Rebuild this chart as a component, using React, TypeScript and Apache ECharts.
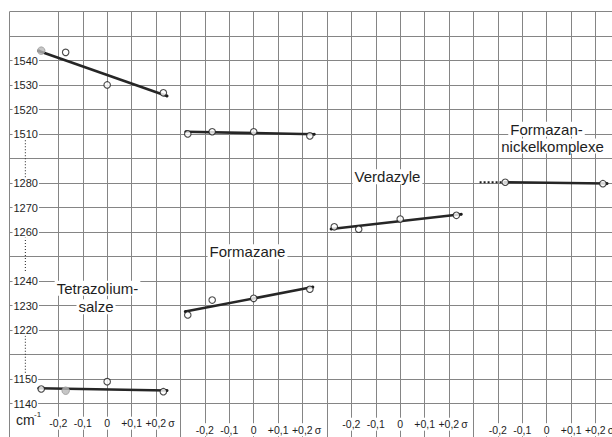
import React, { useEffect, useRef } from 'react';
import * as echarts from 'echarts';

// ---------- data ----------
const sigmaTicks = [-0.2, -0.1, 0, 0.1, 0.2];
const sigmaTickLabels = ['-0,2', '-0,1', '0', '+0,1', '+0,2'];
const yTickValues = [1540, 1530, 1520, 1510, 1280, 1270, 1260, 1240, 1230, 1220, 1150, 1140];

// Hammett sigma of the four substituents (p-OCH3, p-CH3, H, p-Cl)
const substituentSigma = [-0.27, -0.17, 0, 0.23];

const tetrazolium1540 = [1544.1, 1543.4, 1530.1, 1526.9];
const tetrazolium1145 = [1146.0, 1145.3, 1149.0, 1144.9];
const formazan1510 = [1510.1, 1511.0, 1511.0, 1509.3];
const formazan1230 = [1226.2, 1232.3, 1233.0, 1236.7];
const verdazyl1263 = [1262.2, 1261.2, 1265.4, 1266.9];
const nickelSigma = [-0.17, 0.23];
const nickel1280 = [1280.4, 1279.8];

// fitted lines: [sigma, cm-1] start and end
const tetrazolium1540Fit = [[-0.28, 1544.0], [0.245, 1525.6]];
const tetrazolium1145Fit = [[-0.28, 1146.3], [0.245, 1145.4]];
const formazan1510Fit = [[-0.278, 1511.0], [0.248, 1510.0]];
const formazan1230Fit = [[-0.28, 1227.6], [0.242, 1237.6]];
const verdazyl1263Fit = [[-0.283, 1261.3], [0.25, 1267.3]];
const nickel1280Fit = [[-0.17, 1280.4], [0.247, 1279.9]];
const nickel1280Extrapolated = [[-0.275, 1280.4], [-0.17, 1280.4]];

// dotted marks on the broken cm-1 axis
const axisBreakSigma = -0.335;
const axisBreakMarks = [[1507.5, 1282], [1258, 1244], [1219, 1152.5]];

// ---------- layout ----------
const W = 612;
const H = 437;
const CELL_X = 24.42;
const CELL_Y = 24.5;
const GRID_LEFT = 9.5;
const GRID_TOP = 11.7;
const XV_MAX = (W - GRID_LEFT) / CELL_X;
const FONT = '"Liberation Sans", Arial, sans-serif';
const GRID_COLOR = '#858585';
const INK = '#1e1e1e';

// broken cm-1 axis -> cell units from the top border
function toAxis(v: number): number {
  if (v >= 1400) return (1560 - v) / 10;
  if (v >= 1200) return 7 + (1280 - v) / 10;
  return 15 + (1150 - v) / 10;
}
function fromAxis(t: number): number {
  if (t <= 6) return 1560 - 10 * t;
  if (t <= 14) return 1280 - 10 * (t - 7);
  return 1150 - 10 * (t - 15);
}

const panelLabelMargins = [13, 19.5, 14, 19.5];

function panelAxis(p: number) {
  const zero = 4 + 6 * p;
  const tok = { fontSize: 10.5, fontFamily: FONT, color: INK, backgroundColor: '#fff', padding: [1, 0, 1, 0] };
  return {
    type: 'value',
    gridIndex: 0,
    position: 'bottom',
    min: -zero / 10,
    max: (XV_MAX - zero) / 10,
    interval: 0.1,
    z: 5,
    axisLine: { show: false },
    axisTick: { show: false },
    splitLine: { show: false },
    axisLabel: {
      show: true,
      margin: panelLabelMargins[p],
      fontFamily: FONT,
      fontSize: 10.5,
      color: INK,
      rich: {
        t: tok,
        pad: { width: 8, fontSize: 10.5, fontFamily: FONT },
        sg: { ...tok, padding: [1, 0, 1, 2] },
      },
      formatter: (val: number) => {
        const r = Math.round(val * 10) / 10;
        if (Math.abs(val - r) > 1e-6) return '';
        const i = sigmaTicks.findIndex((t) => Math.abs(t - r) < 1e-6);
        if (i < 0) return '';
        if (i === sigmaTicks.length - 1) return '{pad| }{t|' + sigmaTickLabels[i] + '}{sg|σ}';
        return '{t|' + sigmaTickLabels[i] + '}';
      },
    },
  };
}

const groups = [
  { panel: 0, values: tetrazolium1540, sigma: substituentSigma, fit: tetrazolium1540Fit, grey: 0 },
  { panel: 0, values: tetrazolium1145, sigma: substituentSigma, fit: tetrazolium1145Fit, grey: 1 },
  { panel: 1, values: formazan1510, sigma: substituentSigma, fit: formazan1510Fit, grey: -1 },
  { panel: 1, values: formazan1230, sigma: substituentSigma, fit: formazan1230Fit, grey: -1 },
  { panel: 2, values: verdazyl1263, sigma: substituentSigma, fit: verdazyl1263Fit, grey: -1 },
  { panel: 3, values: nickel1280, sigma: nickelSigma, fit: nickel1280Fit, grey: -1 },
];

function buildSeries() {
  const series: any[] = [];
  groups.forEach((g) => {
    series.push({
      type: 'line',
      xAxisIndex: g.panel + 1,
      yAxisIndex: 0,
      data: g.fit.map(([s, v]) => [s, toAxis(v)]),
      symbol: 'circle',
      symbolSize: 3,
      showSymbol: true,
      itemStyle: { color: INK },
      lineStyle: { color: '#262626', width: 2.6 },
      z: 3,
      silent: true,
    });
    series.push({
      type: 'scatter',
      xAxisIndex: g.panel + 1,
      yAxisIndex: 0,
      symbol: 'circle',
      symbolSize: 6.5,
      z: 4,
      itemStyle: { color: '#fff', borderColor: INK, borderWidth: 1.1 },
      data: g.sigma.map((s, i) =>
        i === g.grey
          ? { value: [s, toAxis(g.values[i])], symbolSize: 7.5, itemStyle: { color: '#b8b8b8', borderColor: '#9a9a9a', borderWidth: 1 } }
          : { value: [s, toAxis(g.values[i])] }
      ),
      silent: true,
    });
  });
  series.push({
    type: 'line',
    xAxisIndex: 4,
    yAxisIndex: 0,
    data: nickel1280Extrapolated.map(([s, v]) => [s, toAxis(v)]),
    showSymbol: false,
    lineStyle: { color: INK, width: 2, type: [2, 2] },
    z: 3,
    silent: true,
  });
  axisBreakMarks.forEach(([a, b]) => {
    series.push({
      type: 'line',
      xAxisIndex: 1,
      yAxisIndex: 0,
      data: [[axisBreakSigma, toAxis(a)], [axisBreakSigma, toAxis(b)]],
      showSymbol: false,
      lineStyle: { color: '#333', width: 1.1, type: [1, 2] },
      z: 3,
      silent: true,
    });
  });
  return series;
}

function label(text: string, x: number, y: number, size = 15) {
  return {
    type: 'text',
    z: 10,
    style: {
      text,
      x,
      y,
      align: 'center',
      verticalAlign: 'middle',
      fontFamily: FONT,
      fontSize: size,
      fill: INK,
      backgroundColor: '#fff',
      padding: [0, 2, 0, 2],
    },
  };
}

export default function App() {
  const ref = useRef<HTMLDivElement>(null);
  useEffect(() => {
    document.body.style.margin = '0';
    const chart = echarts.init(ref.current!, undefined, { renderer: 'svg', width: W, height: H });
    const gridCats = Array.from({ length: 25 }, (_, i) => String(i));
    const option: any = {
      animation: false,
      backgroundColor: '#fff',
      grid: [
        { left: GRID_LEFT, top: GRID_TOP, width: W - GRID_LEFT, height: 16 * CELL_Y, containLabel: false, outerBoundsMode: 'none' },
        { left: GRID_LEFT, top: GRID_TOP, width: 24 * CELL_X, height: H - GRID_TOP, containLabel: false, outerBoundsMode: 'none' },
      ],
      xAxis: [
        {
          type: 'category',
          gridIndex: 1,
          data: gridCats,
          boundaryGap: false,
          axisLine: { show: false },
          axisTick: { show: false },
          axisLabel: { show: false },
          splitLine: {
            show: true,
            interval: (index: number) => index !== 1,
            lineStyle: { color: GRID_COLOR, width: 1 },
          },
        },
        panelAxis(0),
        panelAxis(1),
        panelAxis(2),
        panelAxis(3),
      ],
      yAxis: [
        {
          type: 'value',
          gridIndex: 0,
          min: 0,
          max: 16,
          interval: 1,
          inverse: true,
          axisLine: { show: false },
          axisTick: { show: false },
          axisLabel: { show: false },
          splitLine: { show: true, lineStyle: { color: GRID_COLOR, width: 1 } },
        },
        {
          type: 'value',
          gridIndex: 0,
          position: 'left',
          min: 0,
          max: 16,
          interval: 1,
          inverse: true,
          z: 5,
          axisLine: { show: false },
          axisTick: { show: false },
          splitLine: { show: false },
          axisLabel: {
            show: true,
            inside: true,
            margin: 3,
            fontFamily: FONT,
            fontSize: 11,
            color: INK,
            backgroundColor: '#fff',
            padding: [0, 1, 0, 1],
            formatter: (val: number) => {
              const v = Math.round(fromAxis(val));
              return yTickValues.includes(v) && Math.abs(toAxis(v) - val) < 1e-6 ? String(v) : '';
            },
          },
        },
        {
          type: 'value',
          gridIndex: 1,
          min: 0,
          max: 1,
          show: false,
        },
      ],
      graphic: [
        label('Tetrazolium-', 97.5, 288.3),
        label('salze', 96, 306.7),
        label('Formazane', 247.5, 251.7),
        label('Verdazyle', 387.5, 176.7),
        label('Formazan-', 546.5, 129.3),
        label('nickelkomplexe', 552.5, 146),
        {
          type: 'text',
          z: 10,
          style: { text: 'cm', x: 16, y: 420, verticalAlign: 'middle', fontFamily: FONT, fontSize: 14, fill: INK, backgroundColor: '#fff' },
        },
        {
          type: 'text',
          z: 10,
          style: { text: '-1', x: 34, y: 414, verticalAlign: 'middle', fontFamily: FONT, fontSize: 8, fill: INK },
        },
      ],
      series: buildSeries(),
    };
    chart.setOption(option);
    return () => chart.dispose();
  }, []);
  return <div ref={ref} style={{ width: W, height: H, position: 'absolute', left: 0, top: 0 }} />;
}
